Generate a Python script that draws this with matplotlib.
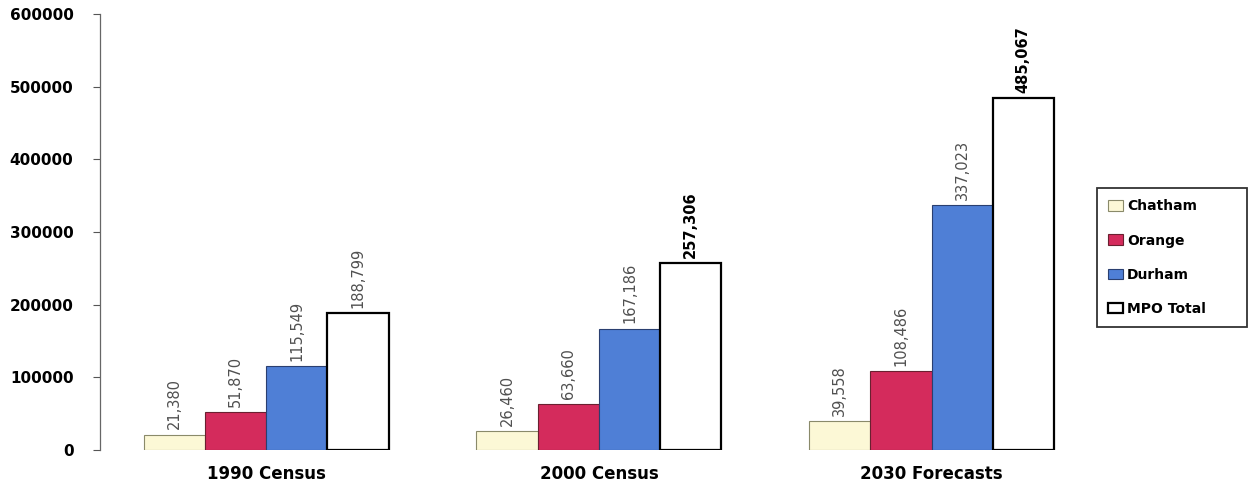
import matplotlib
matplotlib.use("Agg")
import matplotlib.pyplot as plt
import numpy as np

categories = ["1990 Census", "2000 Census", "2030 Forecasts"]
series_names = ["Chatham", "Orange", "Durham", "MPO Total"]
chatham = [21380, 26460, 39558]
orange = [51870, 63660, 108486]
durham = [115549, 167186, 337023]
mpo_total = [188799, 257306, 485067]
y_ticks = [0, 100000, 200000, 300000, 400000, 500000, 600000]

series = [chatham, orange, durham, mpo_total]
fills = ["#fcf8d6", "#d42b5c", "#4f7fd6", "#ffffff"]
edges = ["#8a8a6a", "#6a2030", "#2a3f70", "#000000"]
lws = [0.8, 0.8, 0.8, 1.6]

fig = plt.figure(figsize=(12.49, 4.86), dpi=100)
ax = fig.add_axes([0.080, 0.074, 0.799, 0.897])

x = np.arange(len(categories))
w = 0.184
for i, (vals, name) in enumerate(zip(series, series_names)):
    pos = x + (i - 1.5) * w
    ax.bar(pos, vals, width=w, color=fills[i], edgecolor=edges[i],
           linewidth=lws[i], label=name)
    for j, (p, v) in enumerate(zip(pos, vals)):
        bold = (i == 3 and j > 0)
        ax.text(p, v + 7000, f"{v:,}", rotation=90, ha="center", va="bottom",
                fontsize=10.5, color="#000000" if bold else "#505050",
                fontweight="bold" if bold else "normal")

ax.set_xlim(-0.5, 2.5)
ax.set_ylim(0, 600000)
ax.set_yticks(y_ticks)
ax.set_yticklabels([str(t) for t in y_ticks], fontsize=11, fontweight="bold")
ax.set_xticks(x)
ax.set_xticklabels(categories, fontsize=12, fontweight="bold")
ax.tick_params(axis="x", length=0, pad=11)
ax.tick_params(axis="y", length=5, width=0.8, color="#555555", pad=14)
for s in ["top", "right", "bottom"]:
    ax.spines[s].set_visible(False)
ax.spines["left"].set_color("#666666")
ax.spines["left"].set_linewidth(0.9)

leg = fig.legend(loc="center left", bbox_to_anchor=(0.878, 0.331, 0.120, 0.278),
                 bbox_transform=fig.transFigure, mode="expand", frameon=True,
                 fancybox=False, edgecolor="black",
                 prop={"size": 10, "weight": "bold"},
                 handlelength=1.1, handleheight=0.8, handletextpad=0.3,
                 labelspacing=1.45, borderpad=0.8, borderaxespad=0.0,
                 shadow=False)
leg.get_frame().set_linewidth(1.3)

fig.savefig("out.png", dpi=100)
